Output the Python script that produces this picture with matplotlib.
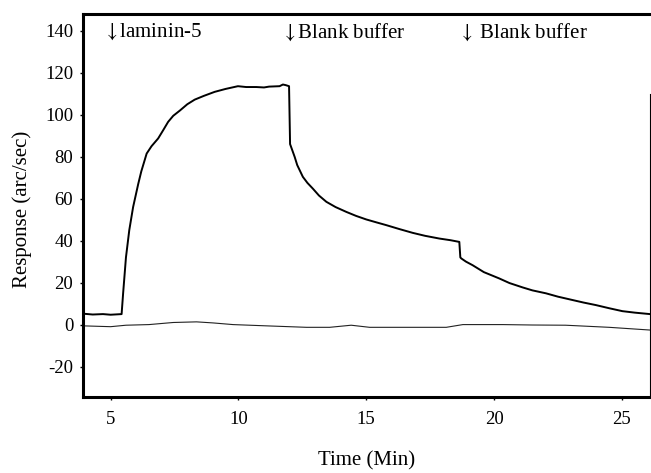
import numpy as np
import matplotlib
matplotlib.use('Agg')
import matplotlib.pyplot as plt

plt.rcParams['font.family'] = ['Liberation Serif', 'DejaVu Serif']
plt.rcParams['axes.unicode_minus'] = False
plt.rcParams['mathtext.fontset'] = 'stix'

# laminin-5 binding trace
time_min = [3.92, 4.3, 4.7, 5.0, 5.43, 5.49, 5.6, 5.73, 5.88, 6.08, 6.2, 6.41, 6.6,
            6.86, 7.05, 7.25, 7.45, 7.71, 8.0, 8.29, 8.65, 9.07, 9.5, 9.98, 10.3,
            10.7, 11.0, 11.2, 11.61, 11.74, 11.85, 11.98,
            12.02, 12.05, 12.2, 12.3, 12.52, 12.7, 12.91, 13.15, 13.44, 13.8, 14.22,
            14.6, 15.0, 15.4, 15.78, 16.3, 16.82, 17.3, 17.86, 18.3, 18.64,
            18.68, 18.72, 18.9, 19.16, 19.6, 20.2, 20.6, 21.12, 21.5, 22.03, 22.5,
            23.07, 23.5, 23.98, 24.5, 25.02, 25.5, 26.1]
response = [5.2, 4.8, 5.0, 4.7, 5.0, 15, 32, 45, 56, 67, 73, 81.5, 85,
            88.7, 92.5, 96.6, 99.5, 102, 105, 107.2, 109, 110.9, 112.3, 113.6, 113.2,
            113.2, 113.0, 113.4, 113.6, 114.4, 114.1, 113.6,
            86, 85, 79.9, 76, 70.4, 67.5, 64.8, 61.5, 58.5, 56, 53.7,
            51.8, 50.1, 48.7, 47.4, 45.5, 43.7, 42.3, 41, 40.2, 39.4,
            32, 31.5, 30, 28.3, 25, 22, 19.8, 17.7, 16.3, 14.9, 13.3,
            11.7, 10.5, 9.3, 7.8, 6.4, 5.7, 5]

# control (blank) trace
time_ctrl = [3.92, 5.0, 5.6, 6.5, 7.45, 8.36, 9.0, 9.79, 11.09, 12.66, 13.57, 14.41,
             15.13, 16.5, 18.13, 18.78, 20.34, 21.5, 22.8, 24.5, 26.1]
response_ctrl = [-0.6, -1, -0.3, 0, 1, 1.3, 0.8, 0, -0.6, -1.3, -1.3, -0.3,
                 -1.3, -1.3, -1.3, 0, 0, -0.2, -0.3, -1.3, -2.6]

labels = [r'$\downarrow$laminin-5', r'$\downarrow$Blank buffer', r'$\downarrow$ Blank buffer']
label_x = [4.72, 11.67, 18.58]
xticks = [5, 10, 15, 20, 25]
yticks = [-20, 0, 20, 40, 60, 80, 100, 120, 140]


def main():
    fig = plt.figure(figsize=(6.51, 4.73), dpi=100)
    ax = fig.add_axes([0.1275, 0.1607, 0.871, 0.8097])

    ax.plot(time_min, response, color='black', lw=1.4)
    ax.plot(time_ctrl, response_ctrl, color='#222222', lw=0.8)

    for x, s in zip(label_x, labels):
        ax.text(x, 139.5, s, fontsize=15, ha='left', va='center')

    ax.set_xlim(3.92, 26.1)
    ax.set_ylim(-34.5, 148)
    ax.set_xticks(xticks)
    ax.set_yticks(yticks)
    ax.tick_params(direction='out', length=2, width=1, labelsize=13.5)
    ax.tick_params(axis='x', pad=8)
    ax.tick_params(axis='y', pad=5)

    for side in ['left', 'bottom', 'top']:
        ax.spines[side].set_linewidth(2.2)
    ax.spines['right'].set_linewidth(0.8)
    ax.spines['right'].set_bounds(-34.5, 110)

    ax.set_xlabel('Time (Min)', fontsize=15, va='center')
    ax.xaxis.set_label_coords(0.5, -0.168)
    ax.set_ylabel('Response (arc/sec)', fontsize=15, va='center')
    ax.yaxis.set_label_coords(-0.107, 0.49)

    fig.savefig('out.png', dpi=100)


if __name__ == '__main__':
    main()
